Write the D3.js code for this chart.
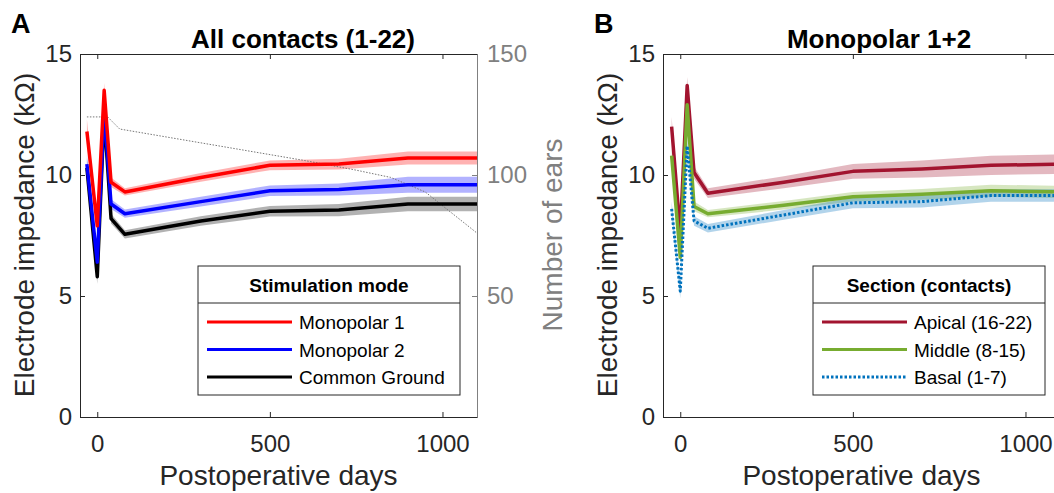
<!DOCTYPE html>
<html>
<head>
<meta charset="utf-8">
<script src="https://cdn.jsdelivr.net/npm/d3@7"></script>
<style>
  body { margin: 0; background: #fff; }
  svg { display: block; font-family: 'Liberation Sans', Arial, Helvetica, sans-serif; }
</style>
</head>
<body>
<svg id="chart" width="1054" height="493"></svg>
<script>
// data
const daysA = [-30, 0, 20, 40, 80, 300, 500, 700, 900, 1100]
const mono1 = [11.8, 7.9, 13.5, 9.7, 9.3, 9.9, 10.4, 10.45, 10.7, 10.7]
const mono1Sem = [0.5, 0.3, 0.3, 0.2, 0.15, 0.18, 0.2, 0.22, 0.27, 0.27]
const mono2 = [10.45, 6.4, 12.7, 8.8, 8.4, 8.9, 9.35, 9.4, 9.6, 9.6]
const mono2Sem = [0.4, 0.3, 0.3, 0.2, 0.17, 0.2, 0.22, 0.25, 0.33, 0.33]
const commonGround = [10.3, 5.8, 12.5, 8.2, 7.55, 8.1, 8.5, 8.55, 8.8, 8.8]
const commonGroundSem = [0.4, 0.3, 0.3, 0.2, 0.17, 0.2, 0.22, 0.25, 0.3, 0.3]

const earsDays = [-30, 30, 65, 600, 750, 850, 950, 1100]
const ears = [124, 124, 119, 106, 102, 99, 93, 76]

const daysB = [-25, 0, 20, 40, 80, 300, 500, 700, 900, 1100]
const apical = [12.0, 7.6, 13.7, 10.1, 9.25, 9.7, 10.15, 10.25, 10.4, 10.45]
const apicalSem = [0.4, 0.35, 0.35, 0.25, 0.2, 0.25, 0.3, 0.35, 0.4, 0.4]
const middle = [10.8, 6.6, 12.9, 8.7, 8.4, 8.75, 9.1, 9.2, 9.35, 9.3]
const middleSem = [0.3, 0.3, 0.3, 0.2, 0.15, 0.18, 0.2, 0.22, 0.25, 0.25]
const basal = [8.6, 5.2, 11.2, 8.1, 7.8, 8.35, 8.85, 8.9, 9.15, 9.15]
const basalSem = [0.3, 0.3, 0.3, 0.2, 0.18, 0.2, 0.22, 0.24, 0.26, 0.26]

const xTicks = [0, 500, 1000]
const yTicks = [0, 5, 10, 15]
const earTicks = [50, 100, 150]

const svg = d3.select('#chart')
const axisColor = '#262626'
const grey = '#808080'
const plotTop = 54
const plotBottom = 417
const plotW = 397

function drawPanel(cfg) {
  const x = d3.scaleLinear().domain([-50, 1100]).range([cfg.left, cfg.left + plotW])
  const y = d3.scaleLinear().domain([0, 15]).range([plotBottom, plotTop])
  const g = svg.append('g')

  // bands
  cfg.series.forEach(s => {
    const rows = s.values.map((v, i) => ({ d: s.days[i], v, e: s.sem[i] }))
    g.append('path')
      .datum(rows)
      .attr('fill', s.color)
      .attr('fill-opacity', 0.3)
      .attr('d', d3.area().x(d => x(d.d)).y0(d => y(d.v - d.e)).y1(d => y(d.v + d.e)))
  })

  if (cfg.ears) {
    const yEars = d3.scaleLinear().domain([0, 150]).range([plotBottom, plotTop])
    g.append('path')
      .datum(cfg.ears.days.map((d, i) => [d, cfg.ears.values[i]]))
      .attr('fill', 'none')
      .attr('stroke', '#777')
      .attr('stroke-width', 1)
      .attr('stroke-dasharray', '1.5,1.5')
      .attr('d', d3.line().x(d => x(d[0])).y(d => yEars(d[1])))
    const ra = g.append('g')
      .attr('transform', `translate(${cfg.left + plotW},0)`)
      .call(d3.axisRight(yEars).tickValues(earTicks).tickSize(-5).tickSizeOuter(0).tickPadding(10))
    ra.select('.domain').attr('stroke', grey)
    ra.selectAll('line').attr('stroke', grey)
    ra.selectAll('text').attr('fill', grey).attr('font-size', 24)
    g.append('text')
      .attr('transform', `translate(${cfg.left + 482},235) rotate(-90)`)
      .attr('text-anchor', 'middle')
      .attr('fill', grey)
      .attr('font-size', 28)
      .text('Number of ears')
  }

  // lines
  cfg.series.forEach(s => {
    g.append('path')
      .datum(s.values.map((v, i) => [s.days[i], v]))
      .attr('fill', 'none')
      .attr('stroke', s.color)
      .attr('stroke-width', s.dash ? 3 : 3.5)
      .attr('stroke-dasharray', s.dash || null)
      .attr('stroke-linejoin', 'round')
      .attr('d', d3.line().x(d => x(d[0])).y(d => y(d[1])))
  })

  // axes
  const xa = g.append('g')
    .attr('transform', `translate(0,${plotBottom})`)
    .call(d3.axisBottom(x).tickValues(xTicks).tickFormat(d3.format('d'))
      .tickSizeInner(-5).tickSizeOuter(0).tickPadding(18))
  const ta = g.append('g')
    .attr('transform', `translate(0,${plotTop})`)
    .call(d3.axisTop(x).tickValues(xTicks).tickSizeInner(-5).tickSizeOuter(0).tickFormat(''))
  const ya = g.append('g')
    .attr('transform', `translate(${cfg.left},0)`)
    .call(d3.axisLeft(y).tickValues(yTicks).tickSizeInner(-5).tickSizeOuter(0).tickPadding(8))
  ;[xa, ta, ya].forEach(a => {
    a.select('.domain').attr('stroke', axisColor)
    a.selectAll('line').attr('stroke', axisColor)
    a.selectAll('text').attr('fill', axisColor).attr('font-size', 24)
  })
  if (!cfg.ears) {
    g.append('line')
      .attr('x1', cfg.left + plotW).attr('x2', cfg.left + plotW)
      .attr('y1', plotTop).attr('y2', plotBottom)
      .attr('stroke', axisColor)
  }

  g.append('text')
    .attr('x', x(cfg.xLabelAt)).attr('y', 485)
    .attr('text-anchor', 'middle')
    .attr('fill', axisColor)
    .attr('font-size', 28)
    .text('Postoperative days')
  g.append('text')
    .attr('transform', `translate(${cfg.left - 46},235) rotate(-90)`)
    .attr('text-anchor', 'middle')
    .attr('fill', axisColor)
    .attr('font-size', 28)
    .text('Electrode impedance (kΩ)')
  g.append('text')
    .attr('x', cfg.titleX).attr('y', 48)
    .attr('text-anchor', 'middle')
    .attr('font-weight', 'bold')
    .attr('font-size', 26)
    .attr('fill', '#000')
    .text(cfg.title)
  g.append('text')
    .attr('x', cfg.letterX).attr('y', 33)
    .attr('font-weight', 'bold')
    .attr('font-size', 27)
    .attr('fill', '#000')
    .text(cfg.letter)

  // legend
  const lg = g.append('g').attr('transform', `translate(${cfg.legend.x},266)`)
  lg.append('rect')
    .attr('width', cfg.legend.w).attr('height', 129)
    .attr('fill', '#fff').attr('stroke', axisColor)
  lg.append('line')
    .attr('x1', 0).attr('x2', cfg.legend.w).attr('y1', 37).attr('y2', 37)
    .attr('stroke', axisColor)
  lg.append('text')
    .attr('x', cfg.legend.w / 2).attr('y', 26)
    .attr('text-anchor', 'middle')
    .attr('font-weight', 'bold')
    .attr('font-size', 19)
    .attr('fill', '#000')
    .text(cfg.legend.title)
  cfg.legend.order.map(i => cfg.series[i]).forEach((s, i) => {
    const yy = 56 + i * 27.5
    lg.append('line')
      .attr('x1', 9).attr('x2', 94).attr('y1', yy).attr('y2', yy)
      .attr('stroke', s.color)
      .attr('stroke-width', 3)
      .attr('stroke-dasharray', s.dash || null)
    lg.append('text')
      .attr('x', 101).attr('y', yy + 7)
      .attr('font-size', 19)
      .attr('fill', '#000')
      .text(s.name)
  })
}

drawPanel({
  left: 80,
  title: 'All contacts (1-22)',
  titleX: 303,
  letter: 'A',
  letterX: 11,
  xLabelAt: 525,
  series: [
    { name: 'Common Ground', days: daysA, values: commonGround, sem: commonGroundSem, color: '#000000' },
    { name: 'Monopolar 2', days: daysA, values: mono2, sem: mono2Sem, color: '#0000FF' },
    { name: 'Monopolar 1', days: daysA, values: mono1, sem: mono1Sem, color: '#FF0000' }
  ],
  ears: { days: earsDays, values: ears },
  legend: { x: 198, w: 262, title: 'Stimulation mode', order: [2, 1, 0] }
})

drawPanel({
  left: 663,
  title: 'Monopolar 1+2',
  titleX: 879,
  letter: 'B',
  letterX: 594,
  xLabelAt: 525,
  series: [
    { name: 'Apical (16-22)', days: daysB, values: apical, sem: apicalSem, color: '#A2142F' },
    { name: 'Middle (8-15)', days: daysB, values: middle, sem: middleSem, color: '#77AC30' },
    { name: 'Basal (1-7)', days: daysB, values: basal, sem: basalSem, color: '#0072BD', dash: '2.5,2' }
  ],
  legend: { x: 813, w: 232, title: 'Section (contacts)', order: [0, 1, 2] }
})
</script>
</body>
</html>
